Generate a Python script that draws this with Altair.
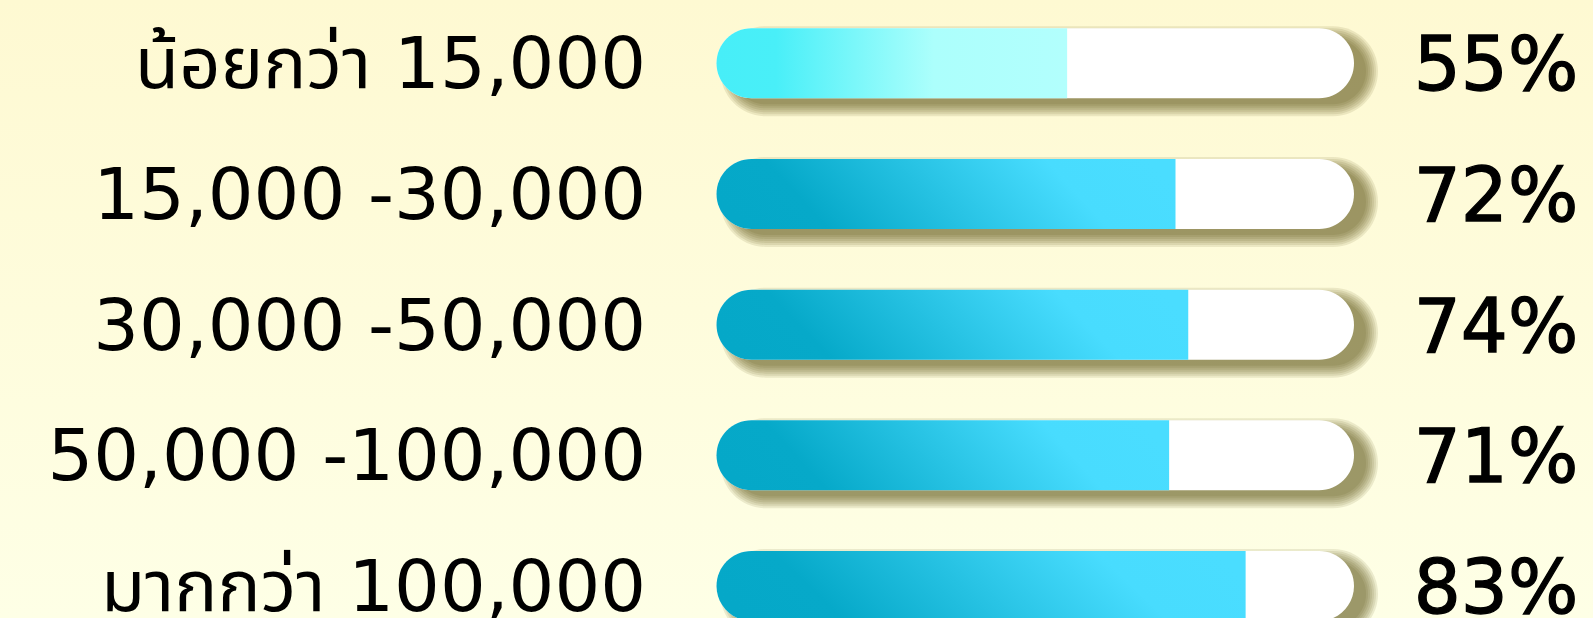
import altair as alt
import pandas as pd

categories = ["น้อยกว่า 15,000", "15,000 -30,000", "30,000 -50,000", "50,000 -100,000", "มากกว่า 100,000"]
values = [55, 72, 74, 71, 83]
pct_labels = ["55%", "72%", "74%", "71%", "83%"]
highlight = [True, False, False, False, False]

df = pd.DataFrame({"cat": categories, "value": values, "label": pct_labels, "hl": highlight})

W, H = 1593, 618
FONT = "DejaVu Sans, Noto Sans Thai, Noto Sans, sans-serif"

y = alt.Y("cat:N", scale=alt.Scale(type="point", domain=categories, range=[63.3, 586], padding=0), axis=None)
xs = alt.Scale(domain=[0, 100], range=[716.5, 1354], nice=False, zero=False)

base = alt.Chart(df)

bg = alt.Chart(alt.Data(values=[{"a": 1}])).mark_rect(
    color={"gradient": "linear", "x1": 0, "y1": 0, "x2": 0, "y2": 1,
           "stops": [{"offset": 0, "color": "#FEF9D2"}, {"offset": 1, "color": "#FEFFE6"}]}
).encode(x=alt.value(0), x2=alt.value(W), y=alt.value(0), y2=alt.value(H))

shadows = []
dx, dy = 14, 8
for s in range(0, 14, 2):
    shadows.append(
        base.mark_bar(size=66 + 2 * s, cornerRadius=33 + s, color="#55450c", opacity=0.11,
                      xOffset=dx - s + 2, x2Offset=dx + s - 2, yOffset=dy)
        .encode(x=alt.X("zero:Q", scale=xs, axis=None), x2="full:Q", y=y)
        .transform_calculate(zero="0", full="100")
    )

track = base.mark_bar(size=70, cornerRadius=35, color="white").encode(
    x=alt.X("zero:Q", scale=xs, axis=None), x2="full:Q", y=y
).transform_calculate(zero="0", full="100")

grad_hl = {"gradient": "linear", "x1": 0, "y1": 0, "x2": 1, "y2": 0,
           "stops": [{"offset": 0, "color": "#47EEF8"}, {"offset": 0.17, "color": "#49EFF8"},
                     {"offset": 0.62, "color": "#ACFFFC"}, {"offset": 1, "color": "#B2FFFD"}]}
grad = {"gradient": "linear", "x1": 0, "y1": 0.57, "x2": 1, "y2": 0.43,
        "stops": [{"offset": 0, "color": "#05A8C8"}, {"offset": 0.18, "color": "#06A9C9"},
                  {"offset": 0.78, "color": "#48DCFE"}, {"offset": 1, "color": "#4ADDFF"}]}

fill_hl = base.transform_filter("datum.hl").transform_calculate(zero="0").mark_bar(
    size=70, cornerRadiusTopLeft=35, cornerRadiusBottomLeft=35, color=grad_hl
).encode(x=alt.X("zero:Q", scale=xs, axis=None), x2="value:Q", y=y)

fill = base.transform_filter("!datum.hl").transform_calculate(zero="0").mark_bar(
    size=70, cornerRadiusTopLeft=35, cornerRadiusBottomLeft=35, color=grad
).encode(x=alt.X("zero:Q", scale=xs, axis=None), x2="value:Q", y=y)

left_text = base.mark_text(align="right", baseline="alphabetic", dy=25, fontSize=72,
                           font=FONT, color="#000000").encode(x=alt.value(646), y=y, text="cat:N")
right_text = base.mark_text(align="center", baseline="alphabetic", dy=27, fontSize=74,
                            font=FONT, color="#000000", stroke="#000000", strokeWidth=1.3).encode(
    x=alt.value(1496), y=y, text="label:N")

chart = alt.layer(bg, *shadows, track, fill_hl, fill, left_text, right_text).properties(
    width=W, height=H, padding=0, autosize="none", background="#FEFCDC"
).configure_view(stroke=None)

chart.save("out.html", embed_options={"renderer": "svg", "actions": False})
